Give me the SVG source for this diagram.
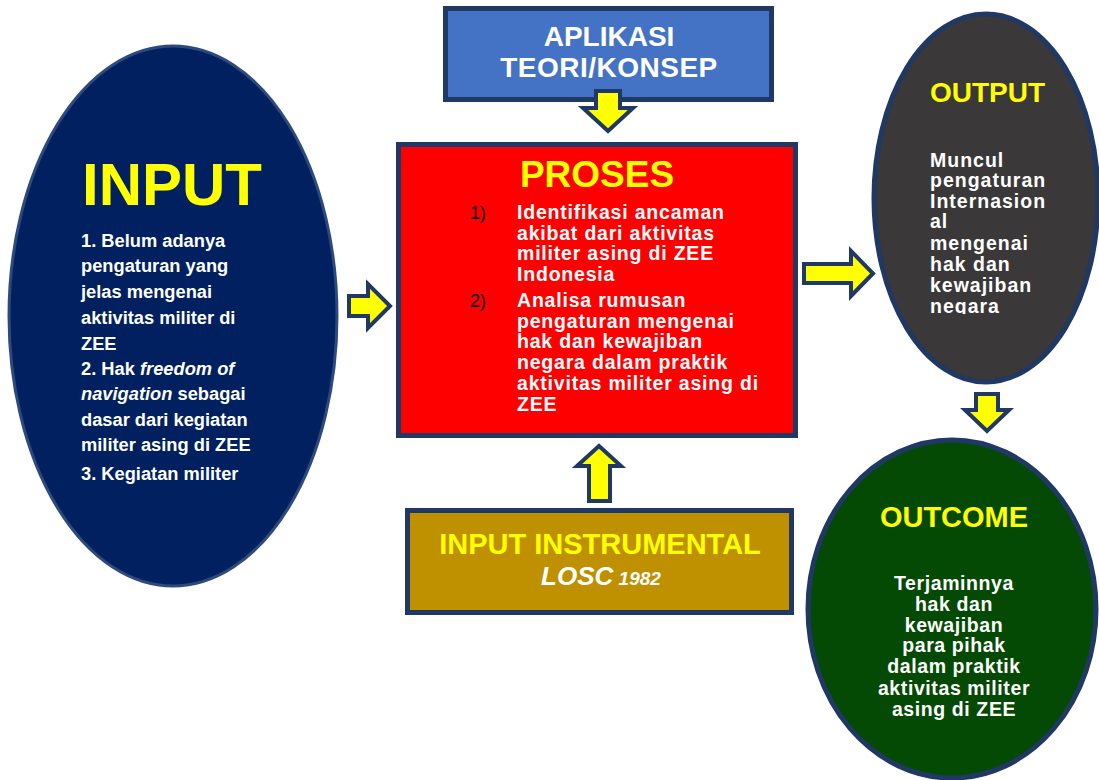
<svg xmlns="http://www.w3.org/2000/svg" width="1099" height="780" viewBox="0 0 1099 780">
<style>
.bd{font-family:"Liberation Sans",Arial,sans-serif;font-weight:bold}
.yl{fill:#FFFF00}
.wh{fill:#FFFFFF}
.arr{fill:#FFFF00;stroke:#1F3864;stroke-width:4;stroke-linejoin:miter}
.box{stroke:#1F3864;stroke-width:5}
</style>
<defs>
<clipPath id="clipOut"><rect x="900" y="140" width="160" height="174"/></clipPath>
<clipPath id="clipPro"><rect x="401" y="147" width="392" height="286"/></clipPath>
</defs>
<rect width="1099" height="780" fill="#FFFFFF"/>

<g id="input">
<ellipse cx="173" cy="316" rx="164" ry="270" fill="#002060" stroke="#2E4A7D" stroke-width="3"/>
<text class="bd yl" x="172" y="205" font-size="60" text-anchor="middle">INPUT</text>
<g class="bd wh" font-size="18.3">
<text x="81" y="247">1. Belum adanya</text>
<text x="81" y="272">pengaturan yang</text>
<text x="81" y="298">jelas mengenai</text>
<text x="81" y="324">aktivitas militer di</text>
<text x="81" y="350">ZEE</text>
<text x="81" y="375">2. Hak <tspan font-style="italic">freedom of</tspan></text>
<text x="81" y="400"><tspan font-style="italic">navigation</tspan> sebagai</text>
<text x="81" y="426">dasar dari kegiatan</text>
<text x="81" y="451">militer asing di ZEE</text>
<text x="81" y="480">3. Kegiatan militer</text>
</g>
</g>

<g id="aplikasi">
<rect class="box" x="445.5" y="8.5" width="326" height="91" fill="#4472C4"/>
<text class="bd wh" x="609" y="46" font-size="28" text-anchor="middle">APLIKASI</text>
<text class="bd wh" x="609" y="77" font-size="28" text-anchor="middle" letter-spacing="0.5">TEORI/KONSEP</text>
</g>

<g id="proses">
<rect class="box" x="398.5" y="144.5" width="397" height="291" fill="#FF0000"/>
<text class="bd yl" x="597" y="187" font-size="37" text-anchor="middle">PROSES</text>
<g clip-path="url(#clipPro)">
<g font-family="Liberation Sans,Arial,sans-serif" font-size="18" fill="#000000">
<text x="470" y="219">1)</text>
<text x="470" y="307">2)</text>
</g>
<g class="bd wh" font-size="19.5" letter-spacing="0.8">
<text x="517" y="219">Identifikasi ancaman</text>
<text x="517" y="240">akibat dari aktivitas</text>
<text x="517" y="260">militer asing di ZEE</text>
<text x="517" y="281">Indonesia</text>
<text x="517" y="307">Analisa rumusan</text>
<text x="517" y="328">pengaturan mengenai</text>
<text x="517" y="348">hak dan kewajiban</text>
<text x="517" y="369">negara dalam praktik</text>
<text x="517" y="390">aktivitas militer asing di</text>
<text x="517" y="411">ZEE</text>
</g>
</g>
</g>

<g id="output">
<ellipse cx="986" cy="198" rx="112" ry="184" fill="#3A3838" stroke="#1F3864" stroke-width="5"/>
<text class="bd yl" x="930" y="102" font-size="28">OUTPUT</text>
<g class="bd wh" font-size="19.5" letter-spacing="1" clip-path="url(#clipOut)">
<text x="930" y="167">Muncul</text>
<text x="930" y="187">pengaturan</text>
<text x="930" y="208">Internasion</text>
<text x="930" y="228">al</text>
<text x="930" y="250">mengenai</text>
<text x="930" y="271">hak dan</text>
<text x="930" y="292">kewajiban</text>
<text x="930" y="313">negara</text>
</g>
</g>

<g id="instrumental">
<rect class="box" x="407.5" y="510.5" width="384" height="102" fill="#BF9000"/>
<text class="bd yl" x="600" y="554" font-size="29" text-anchor="middle">INPUT INSTRUMENTAL</text>
<text class="bd wh" x="601" y="585" text-anchor="middle" font-style="italic"><tspan font-size="26">LOSC</tspan><tspan font-size="19"> 1982</tspan></text>
</g>

<g id="outcome">
<ellipse cx="952" cy="609" rx="144" ry="169" fill="#044A04" stroke="#1F3864" stroke-width="5"/>
<text class="bd yl" x="954" y="527" font-size="29" text-anchor="middle">OUTCOME</text>
<g class="bd wh" font-size="19.5" text-anchor="middle" letter-spacing="0.6">
<text x="954" y="590">Terjaminnya</text>
<text x="954" y="611">hak dan</text>
<text x="954" y="632">kewajiban</text>
<text x="954" y="652">para pihak</text>
<text x="954" y="673">dalam praktik</text>
<text x="954" y="695">aktivitas militer</text>
<text x="954" y="716">asing di ZEE</text>
</g>
</g>

<g id="connectors">
<polygon class="arr" points="596,91 620,91 620,108 633,108 608,131 583,108 596,108"/>
<polygon class="arr" points="349,296 368,296 368,284 390,306 368,328 368,316 349,316"/>
<polygon class="arr" points="804,264 851,264 851,251 873,273.5 851,296 851,283 804,283"/>
<polygon class="arr" points="976,394 998,394 998,410 1009,410 987,431 965,410 976,410"/>
<polygon class="arr" points="599,446 621,466 610,466 610,501 589,501 589,466 577,466"/>
</g>
</svg>
